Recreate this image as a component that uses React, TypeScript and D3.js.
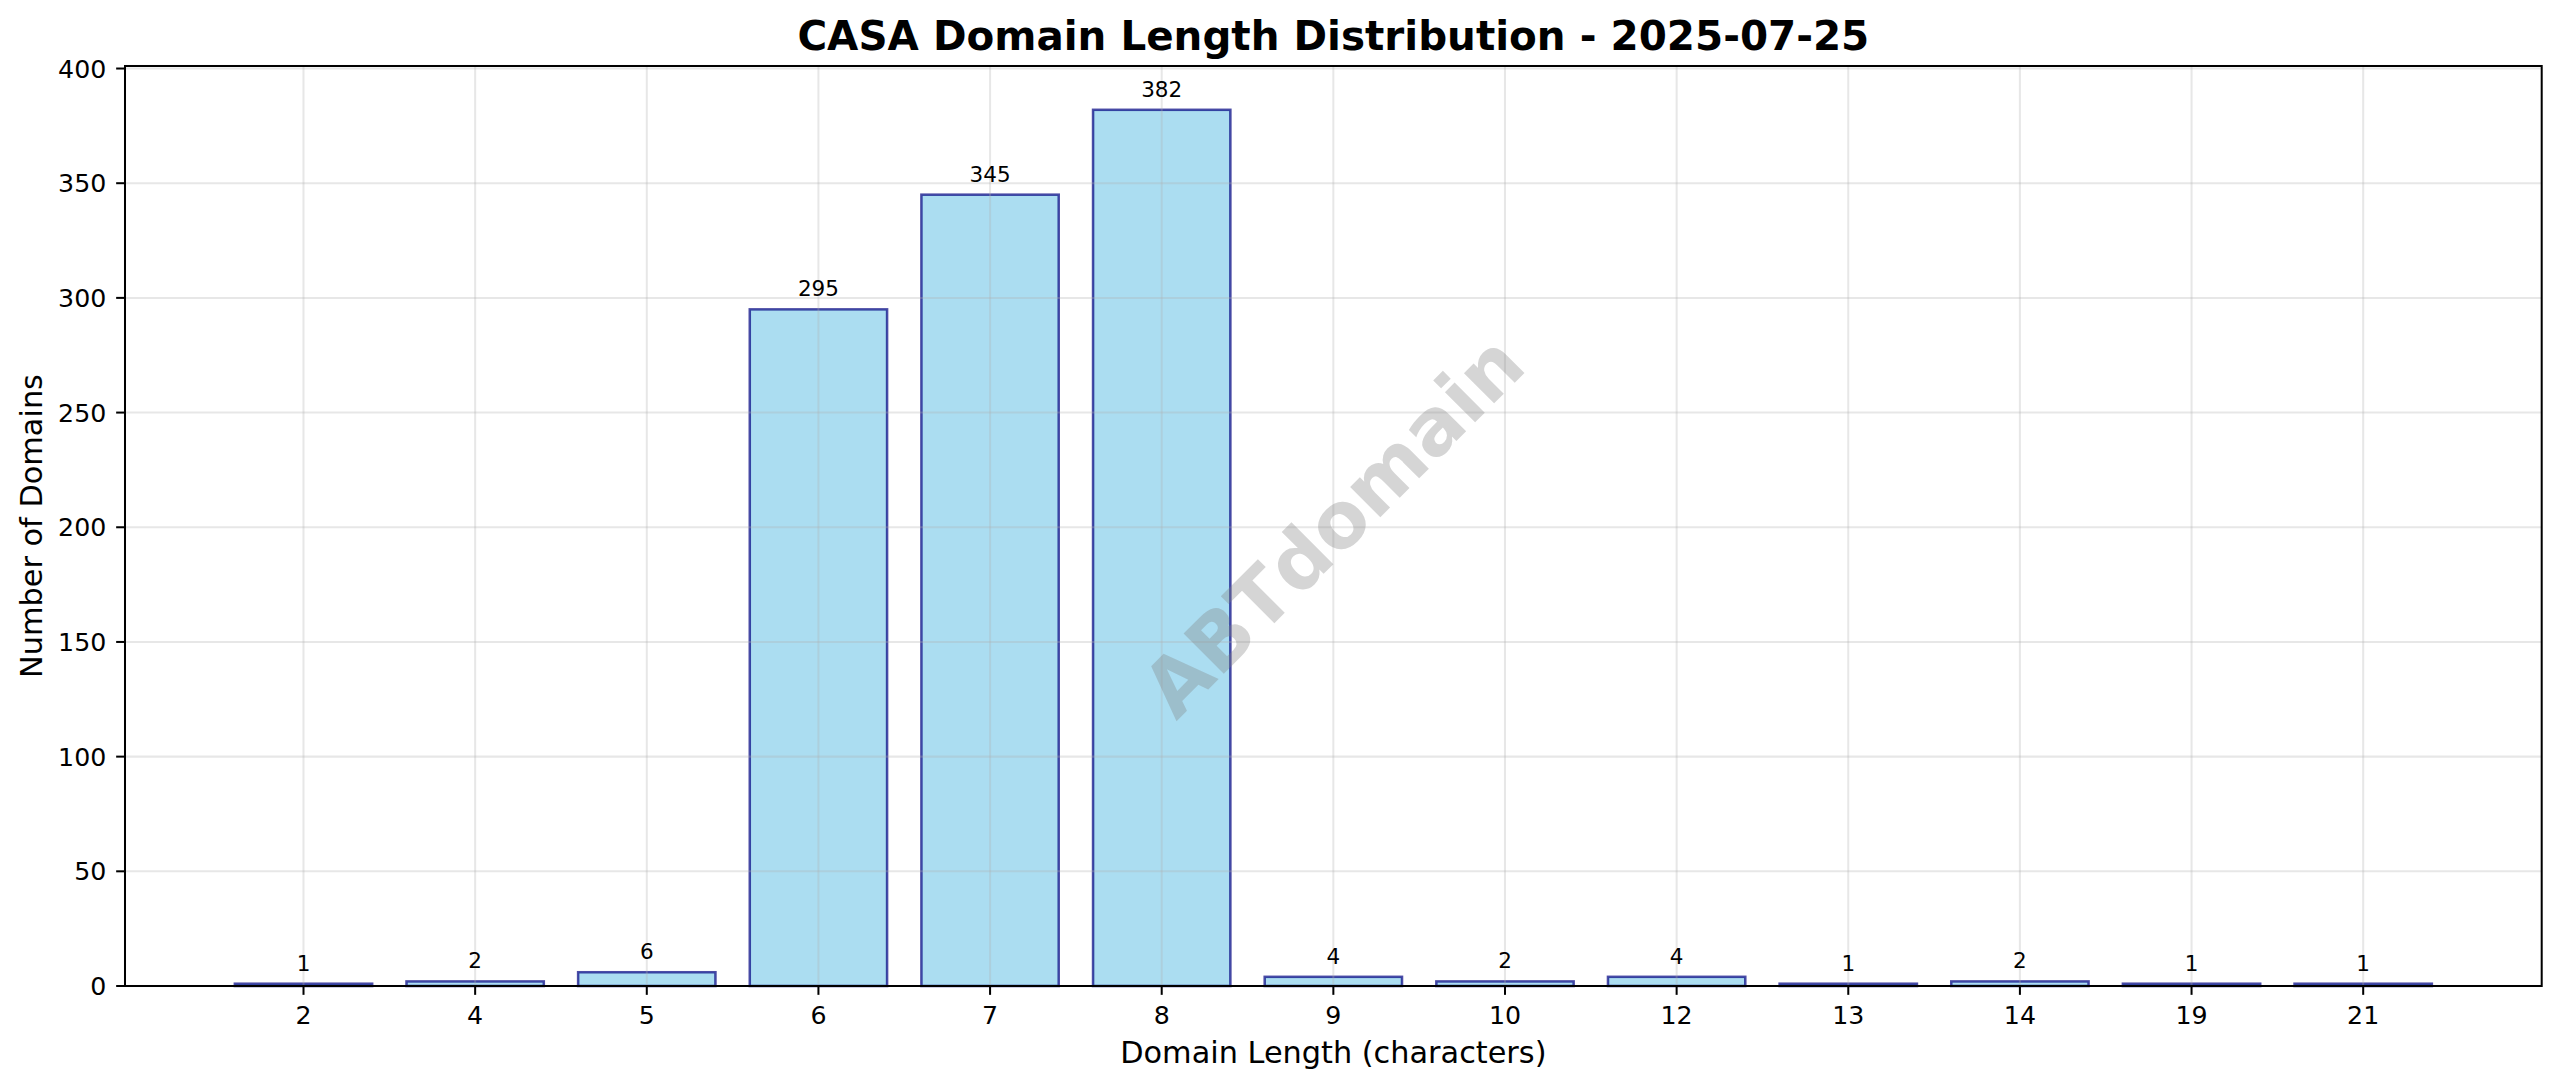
import * as d3 from "d3";

const width = 2560;
const height = 1088;

// plot area
const left = 125;
const right = 2541.7;
const top = 66;
const bottom = 986;

const lengths = ["2", "4", "5", "6", "7", "8", "9", "10", "12", "13", "14", "19", "21"];
const counts = [1, 2, 6, 295, 345, 382, 4, 2, 4, 1, 2, 1, 1];
const yTicks = [0, 50, 100, 150, 200, 250, 300, 350, 400];

const font = "'DejaVu Sans', sans-serif";
const pt = 182 / 72; // px per point

export default function App() {
  const x = d3
    .scaleLinear()
    .domain([-1.04, lengths.length - 1 + 1.04])
    .range([left, right]);

  const yMax = d3.max(counts)! * 1.05;
  const y = d3.scaleLinear().domain([0, yMax]).range([bottom, top]);

  const barW = x(0.8) - x(0);
  const cx = (left + right) / 2;
  const cy = (top + bottom) / 2;
  const tickLen = 3.5 * pt;

  return (
    <svg
      width={width}
      height={height}
      viewBox={`0 0 ${width} ${height}`}
      style={{ position: "absolute", left: 0, top: 0, background: "#fff" }}
      fontFamily={font}
    >
      <rect x={0} y={0} width={width} height={height} fill="#ffffff" />

      {/* 長條 */}
      <g>
        {counts.map((d, i) => (
          <rect
            key={i}
            x={x(i) - barW / 2}
            y={y(d)}
            width={barW}
            height={y(0) - y(d)}
            fill="#87ceeb"
            fillOpacity={0.7}
            stroke="#000080"
            strokeOpacity={0.7}
            strokeWidth={1 * pt}
          />
        ))}
      </g>

      {/* 格線 */}
      <g stroke="#b0b0b0" strokeOpacity={0.3} strokeWidth={0.8 * pt}>
        {lengths.map((_, i) => (
          <line key={`gx${i}`} x1={x(i)} x2={x(i)} y1={top} y2={bottom} />
        ))}
        {yTicks.map((t) => (
          <line key={`gy${t}`} x1={left} x2={right} y1={y(t)} y2={y(t)} />
        ))}
      </g>

      {/* 數值標籤 */}
      <g fontSize={21.5} textAnchor="middle" fill="#000">
        {counts.map((d, i) => (
          <text key={i} x={x(i)} y={y(d) - 13}>
            {d}
          </text>
        ))}
      </g>

      {/* 浮水印 */}
      <text
        x={cx}
        y={cy}
        transform={`rotate(-45, ${cx}, ${cy})`}
        textAnchor="middle"
        dominantBaseline="central"
        fontSize={78}
        fontWeight="bold"
        fill="#808080"
        fillOpacity={0.33}
      >
        ABTdomain
      </text>

      {/* 軸線 */}
      <rect
        x={left}
        y={top}
        width={right - left}
        height={bottom - top}
        fill="none"
        stroke="#000"
        strokeWidth={0.8 * pt}
      />

      {/* x 軸刻度 */}
      <g fontSize={10 * pt} textAnchor="middle">
        {lengths.map((l, i) => (
          <g key={l}>
            <line x1={x(i)} x2={x(i)} y1={bottom} y2={bottom + tickLen} stroke="#000" strokeWidth={0.8 * pt} />
            <text x={x(i)} y={1024}>
              {l}
            </text>
          </g>
        ))}
      </g>

      {/* y 軸刻度 */}
      <g fontSize={10 * pt} textAnchor="end">
        {yTicks.map((t) => (
          <g key={t}>
            <line x1={left - tickLen} x2={left} y1={y(t)} y2={y(t)} stroke="#000" strokeWidth={0.8 * pt} />
            <text x={left - 2 * tickLen - 1} y={y(t)} dy="0.36em">
              {t}
            </text>
          </g>
        ))}
      </g>

      <text x={cx} y={1063} textAnchor="middle" fontSize={12 * pt}>
        Domain Length (characters)
      </text>
      <text
        transform={`translate(42, ${cy}) rotate(-90)`}
        textAnchor="middle"
        fontSize={12 * pt}
      >
        Number of Domains
      </text>

      <text x={cx} y={50} textAnchor="middle" fontSize={16 * pt} fontWeight="bold">
        CASA Domain Length Distribution - 2025-07-25
      </text>
    </svg>
  );
}
